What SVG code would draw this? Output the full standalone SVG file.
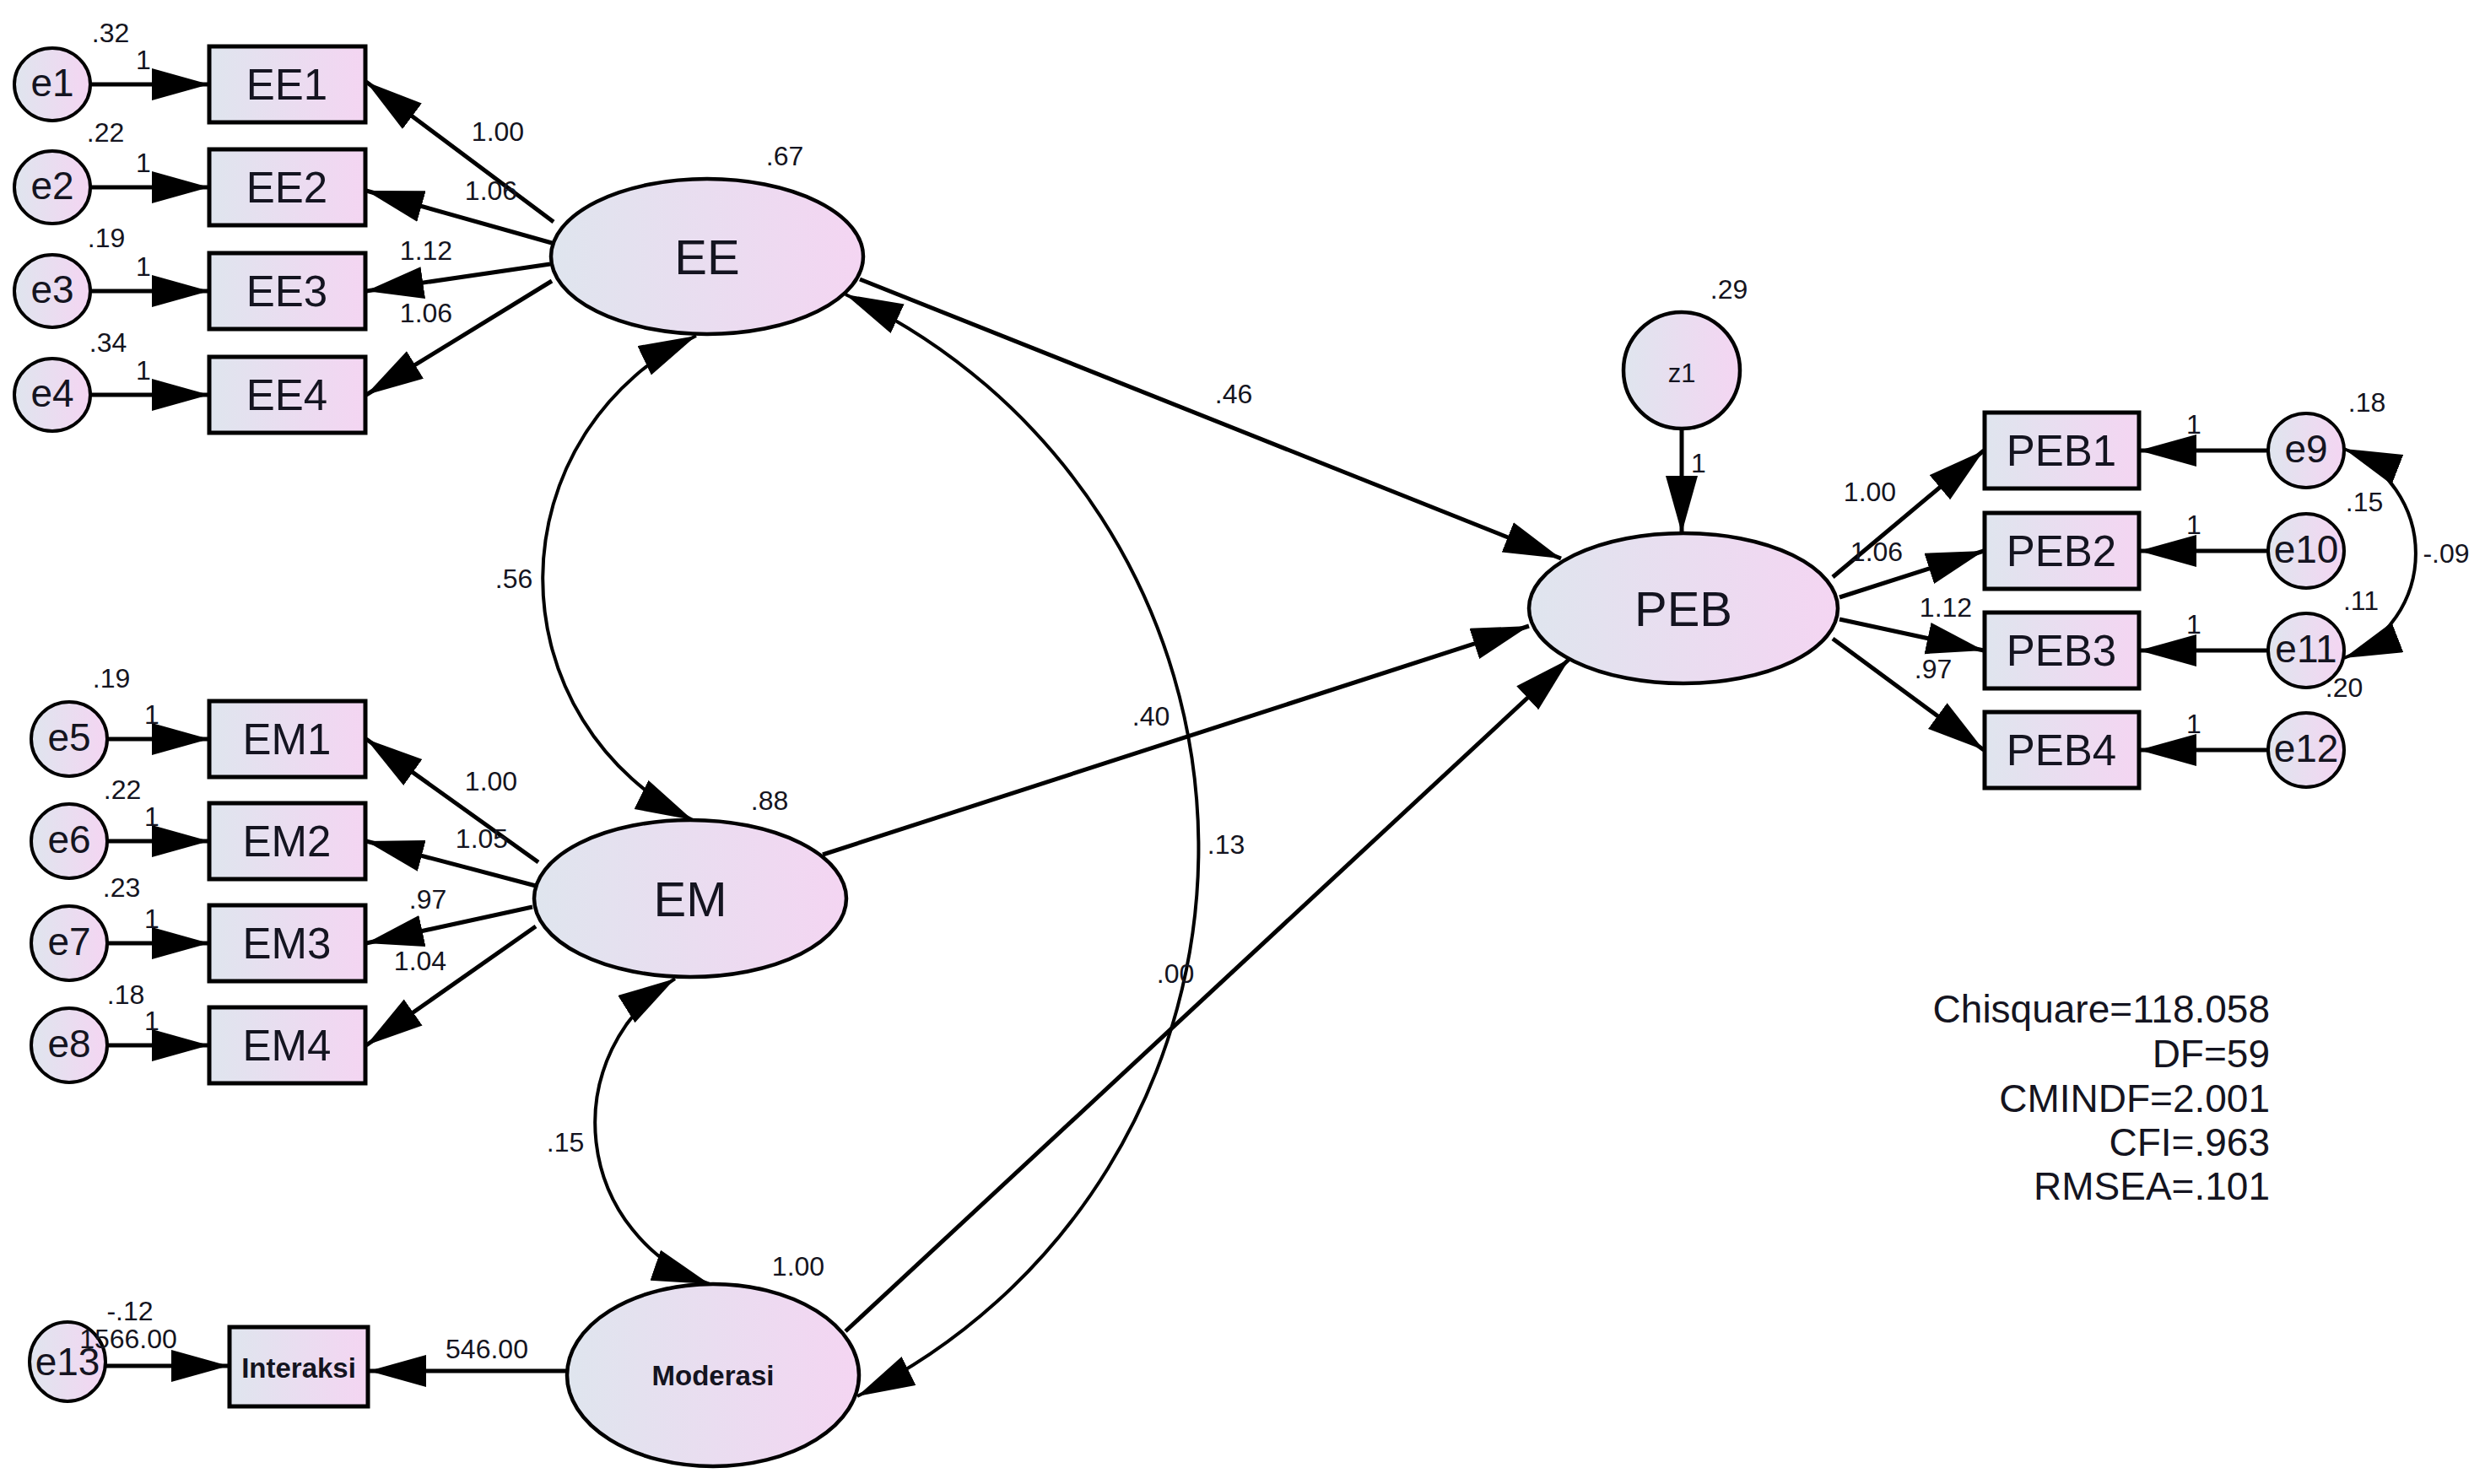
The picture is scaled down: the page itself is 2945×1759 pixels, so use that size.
<svg xmlns="http://www.w3.org/2000/svg" width="2945" height="1759" viewBox="0 0 2945 1759">
<defs>
<linearGradient id="fillg" x1="0" y1="0" x2="1" y2="0">
<stop offset="0" stop-color="#dfe5ee"/>
<stop offset="1" stop-color="#f4d5f2"/>
</linearGradient>
<marker id="ah" markerUnits="userSpaceOnUse" markerWidth="70" markerHeight="40" refX="68" refY="19" orient="auto-start-reverse" viewBox="0 0 70 40">
<path d="M0,0 L68,19 L0,38 Z" fill="#000"/>
</marker>
</defs>
<style>
.node{fill:url(#fillg);stroke:#000;stroke-width:5}
.lat{fill:url(#fillg);stroke:#000;stroke-width:4.5}
.err{fill:url(#fillg);stroke:#000;stroke-width:4}
.edge{fill:none;stroke:#000;stroke-width:5;marker-end:url(#ah)}
.cov{fill:none;stroke:#000;stroke-width:4;marker-start:url(#ah);marker-end:url(#ah)}
text{font-family:"Liberation Sans",Arial,sans-serif;fill:#141420}
.lbl{font-size:32px;text-anchor:middle}
.obs{font-size:51px;text-anchor:middle}
.lv{font-size:58px;text-anchor:middle}
.et{font-size:46px;text-anchor:middle}
.bold{font-size:33px;font-weight:bold;text-anchor:middle}
.fit{font-size:46px;text-anchor:end}
</style>
<rect width="2945" height="1759" fill="#fff"/>

<g id="connectors">
<path class="edge" d="M107,100 H248"/>
<path class="edge" d="M107,222 H248"/>
<path class="edge" d="M107,345 H248"/>
<path class="edge" d="M107,468 H248"/>
<path class="edge" d="M126,876 H248"/>
<path class="edge" d="M126,997 H248"/>
<path class="edge" d="M126,1118 H248"/>
<path class="edge" d="M126,1239 H248"/>
<path class="edge" d="M126,1619 H271"/>
<path class="edge" d="M656,263 L434,97"/>
<path class="edge" d="M654,288 L434,226"/>
<path class="edge" d="M652,313 L434,345"/>
<path class="edge" d="M654,333 L434,468"/>
<path class="edge" d="M638,1022 L434,876"/>
<path class="edge" d="M635,1050 L434,997"/>
<path class="edge" d="M631,1075 L434,1118"/>
<path class="edge" d="M635,1098 L434,1239"/>
<path class="edge" d="M672,1625 L437,1625"/>
<path class="edge" d="M1993,508 L1993,632"/>
<path class="edge" d="M1019,331 L1850,662"/>
<path class="edge" d="M975,1013 L1812,742"/>
<path class="edge" d="M1002,1578 L1860,781"/>
<path class="edge" d="M2172,684 L2351,534"/>
<path class="edge" d="M2180,708 L2351,653"/>
<path class="edge" d="M2180,734 L2351,771"/>
<path class="edge" d="M2172,757 L2351,889"/>
<path class="edge" d="M2688,534 L2535,534"/>
<path class="edge" d="M2688,653 L2535,653"/>
<path class="edge" d="M2688,771 L2535,771"/>
<path class="edge" d="M2688,889 L2535,889"/>
<path class="cov" d="M825,398 A319,319 0 0 0 821,972"/>
<path class="cov" d="M800,1160 A202,202 0 0 0 841,1522"/>
<path class="cov" d="M1002,349 A724,724 0 0 1 1016,1655"/>
<path class="cov" d="M2778,532 A133,133 0 0 1 2778,780"/>
</g>

<g id="e1"><ellipse class="err" cx="62" cy="100" rx="45" ry="43"/><text class="et" x="62" y="114">e1</text></g>
<g id="e2"><ellipse class="err" cx="62" cy="222" rx="45" ry="43"/><text class="et" x="62" y="236">e2</text></g>
<g id="e3"><ellipse class="err" cx="62" cy="345" rx="45" ry="43"/><text class="et" x="62" y="359">e3</text></g>
<g id="e4"><ellipse class="err" cx="62" cy="468" rx="45" ry="43"/><text class="et" x="62" y="482">e4</text></g>
<g id="EE1"><rect class="node" x="248" y="55" width="185" height="90"/><text class="obs" x="340" y="118">EE1</text></g>
<g id="EE2"><rect class="node" x="248" y="177" width="185" height="90"/><text class="obs" x="340" y="240">EE2</text></g>
<g id="EE3"><rect class="node" x="248" y="300" width="185" height="90"/><text class="obs" x="340" y="363">EE3</text></g>
<g id="EE4"><rect class="node" x="248" y="423" width="185" height="90"/><text class="obs" x="340" y="486">EE4</text></g>
<g id="EE"><ellipse class="lat" cx="838" cy="304" rx="185" ry="92"/><text class="lv" x="838" y="325">EE</text></g>

<g id="e5"><ellipse class="err" cx="82" cy="876" rx="45" ry="44"/><text class="et" x="82" y="890">e5</text></g>
<g id="e6"><ellipse class="err" cx="82" cy="997" rx="45" ry="44"/><text class="et" x="82" y="1011">e6</text></g>
<g id="e7"><ellipse class="err" cx="82" cy="1118" rx="45" ry="44"/><text class="et" x="82" y="1132">e7</text></g>
<g id="e8"><ellipse class="err" cx="82" cy="1239" rx="45" ry="44"/><text class="et" x="82" y="1253">e8</text></g>
<g id="EM1"><rect class="node" x="248" y="831" width="185" height="90"/><text class="obs" x="340" y="894">EM1</text></g>
<g id="EM2"><rect class="node" x="248" y="952" width="185" height="90"/><text class="obs" x="340" y="1015">EM2</text></g>
<g id="EM3"><rect class="node" x="248" y="1073" width="185" height="90"/><text class="obs" x="340" y="1136">EM3</text></g>
<g id="EM4"><rect class="node" x="248" y="1194" width="185" height="90"/><text class="obs" x="340" y="1257">EM4</text></g>
<g id="EM"><ellipse class="lat" cx="818" cy="1065" rx="185" ry="93"/><text class="lv" x="818" y="1086">EM</text></g>

<g id="e13"><ellipse class="err" cx="80" cy="1614" rx="45" ry="47"/><text class="et" x="80" y="1630">e13</text></g>
<g id="Interaksi"><rect class="node" x="272" y="1573" width="164" height="94"/><text class="bold" x="354" y="1633">Interaksi</text></g>
<g id="Moderasi"><ellipse class="lat" cx="845" cy="1630" rx="173" ry="108"/><text class="bold" x="845" y="1642">Moderasi</text></g>

<g id="z1"><ellipse class="lat" cx="1993" cy="439" rx="69" ry="69"/><text x="1993" y="453" style="font-size:31px;text-anchor:middle">z1</text></g>
<g id="PEB"><ellipse class="lat" cx="1995" cy="721" rx="183" ry="89"/><text class="lv" x="1995" y="742">PEB</text></g>
<g id="PEB1"><rect class="node" x="2352" y="489" width="183" height="90"/><text class="obs" x="2443" y="552">PEB1</text></g>
<g id="PEB2"><rect class="node" x="2352" y="608" width="183" height="90"/><text class="obs" x="2443" y="671">PEB2</text></g>
<g id="PEB3"><rect class="node" x="2352" y="726" width="183" height="90"/><text class="obs" x="2443" y="789">PEB3</text></g>
<g id="PEB4"><rect class="node" x="2352" y="844" width="183" height="90"/><text class="obs" x="2443" y="907">PEB4</text></g>
<g id="e9"><ellipse class="err" cx="2733" cy="534" rx="45" ry="44"/><text class="et" x="2733" y="548">e9</text></g>
<g id="e10"><ellipse class="err" cx="2733" cy="653" rx="45" ry="44"/><text class="et" x="2733" y="667">e10</text></g>
<g id="e11"><ellipse class="err" cx="2733" cy="771" rx="45" ry="44"/><text class="et" x="2733" y="785">e11</text></g>
<g id="e12"><ellipse class="err" cx="2733" cy="889" rx="45" ry="44"/><text class="et" x="2733" y="903">e12</text></g>

<g id="labels">
<text class="lbl" x="131" y="50">.32</text>
<text class="lbl" x="125" y="168">.22</text>
<text class="lbl" x="126" y="293">.19</text>
<text class="lbl" x="128" y="417">.34</text>
<text class="lbl" x="170" y="82">1</text>
<text class="lbl" x="170" y="204">1</text>
<text class="lbl" x="170" y="327">1</text>
<text class="lbl" x="170" y="450">1</text>
<text class="lbl" x="590" y="167">1.00</text>
<text class="lbl" x="582" y="237">1.06</text>
<text class="lbl" x="505" y="308">1.12</text>
<text class="lbl" x="505" y="382">1.06</text>
<text class="lbl" x="930" y="196">.67</text>

<text class="lbl" x="132" y="815">.19</text>
<text class="lbl" x="145" y="947">.22</text>
<text class="lbl" x="144" y="1063">.23</text>
<text class="lbl" x="149" y="1190">.18</text>
<text class="lbl" x="180" y="858">1</text>
<text class="lbl" x="180" y="979">1</text>
<text class="lbl" x="180" y="1100">1</text>
<text class="lbl" x="180" y="1221">1</text>
<text class="lbl" x="582" y="937">1.00</text>
<text class="lbl" x="571" y="1005">1.05</text>
<text class="lbl" x="507" y="1077">.97</text>
<text class="lbl" x="498" y="1150">1.04</text>
<text class="lbl" x="912" y="960">.88</text>

<text class="lbl" x="609" y="697">.56</text>
<text class="lbl" x="670" y="1365">.15</text>
<text class="lbl" x="1453" y="1012">.13</text>
<text class="lbl" x="1462" y="478">.46</text>
<text class="lbl" x="1364" y="860">.40</text>
<text class="lbl" x="1393" y="1165">.00</text>

<text class="lbl" x="154" y="1565">-.12</text>
<text class="lbl" x="152" y="1598">1566.00</text>
<text class="lbl" x="577" y="1610">546.00</text>
<text class="lbl" x="946" y="1512">1.00</text>

<text class="lbl" x="2049" y="354">.29</text>
<text class="lbl" x="2013" y="560">1</text>
<text class="lbl" x="2216" y="594">1.00</text>
<text class="lbl" x="2224" y="665">1.06</text>
<text class="lbl" x="2306" y="731">1.12</text>
<text class="lbl" x="2291" y="804">.97</text>
<text class="lbl" x="2600" y="514">1</text>
<text class="lbl" x="2600" y="633">1</text>
<text class="lbl" x="2600" y="751">1</text>
<text class="lbl" x="2600" y="869">1</text>
<text class="lbl" x="2805" y="488">.18</text>
<text class="lbl" x="2802" y="606">.15</text>
<text class="lbl" x="2798" y="723">.11</text>
<text class="lbl" x="2778" y="826">.20</text>
<text class="lbl" x="2899" y="667">-.09</text>
</g>

<g id="fit">
<text class="fit" x="2690" y="1212">Chisquare=118.058</text>
<text class="fit" x="2690" y="1265">DF=59</text>
<text class="fit" x="2690" y="1318">CMINDF=2.001</text>
<text class="fit" x="2690" y="1370">CFI=.963</text>
<text class="fit" x="2690" y="1422">RMSEA=.101</text>
</g>
</svg>
